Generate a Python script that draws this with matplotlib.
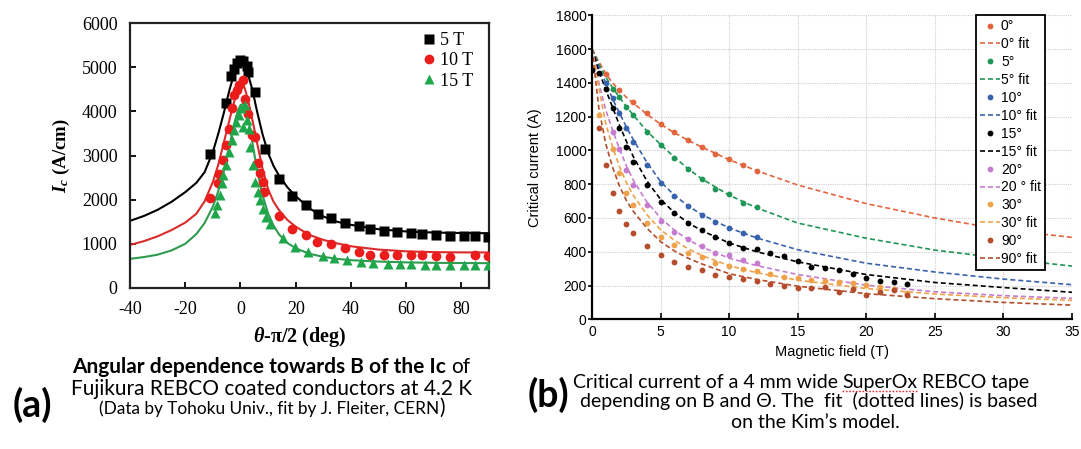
import matplotlib
matplotlib.use("Agg")
import matplotlib.pyplot as plt
from matplotlib.lines import Line2D
from matplotlib.transforms import IdentityTransform

# ---------------- (a) angular dependence, Fujikura tape at 4.2 K ----------------
ang_5T = [-11, -5.1, -3.3, -2.5, -1.1, 0, 1.1, 2.2, 2.9, 5.1, 9, 13.8, 18.8, 23.9, 27.9,
          32.9, 37.9, 42.8, 46.8, 51.8, 56.6, 61.8, 65.7, 70.9, 75.7, 80.8, 84.8, 89.7]
ic_5T = [3030, 4190, 4800, 4950, 5090, 5160, 5130, 5020, 4890, 4430, 3140, 2470, 2080, 1880, 1680,
         1575, 1480, 1395, 1340, 1300, 1275, 1235, 1215, 1190, 1185, 1185, 1175, 1160]

ang_10T = [-11.2, -8.2, -7.6, -6.2, -5.2, -4.2, -3.0, -2.2, -1.3, -0.4, 0.8, 1.8, 2.6, 4.1, 5.1,
           6.3, 7.1, 8.1, 8.7, 13.8, 18.7, 23.8, 27.8, 32.9, 37.9, 42.8, 46.8, 51.8, 56.6, 61.8,
           65.7, 70.9, 75.7, 84.8, 89.7]
ic_10T = [2030, 2370, 2590, 2900, 3240, 3610, 4070, 4370, 4490, 4590, 4700, 4280, 3950, 3460, 3410,
          2820, 2595, 2405, 2180, 1630, 1330, 1190, 1035, 990, 900, 810, 755, 745, 745, 740,
          740, 730, 700, 745, 725]

ang_15T = [-9.4, -8.4, -7.5, -6.8, -6.2, -5.2, -4.0, -3.2, -2.5, -1.6, -0.6, 0.2, 0.8, 1.5, 2.3,
           3.0, 3.3, 4.7, 5.4, 6.3, 7.1, 8.1, 9.3, 10.8, 15.3, 19.8, 24.6, 29.8, 33.7, 38.5,
           43.7, 47.9, 53.4, 57.9, 61.8, 66.9, 70.9, 75.7, 80.8, 84.8, 89.7]
ic_15T = [1690, 1880, 2100, 2380, 2560, 2780, 3080, 3350, 3570, 3760, 3910, 4070, 3650, 4150, 3800,
          3610, 3200, 2780, 2405, 2180, 1990, 1800, 1615, 1450, 1125, 935, 810, 725, 670, 635,
          595, 575, 545, 545, 545, 520, 520, 520, 520, 520, 520]

# fitted curves, sampled on a common angle grid
fit_ang = [-40, -35, -30, -25, -20, -16, -13, -10, -8, -6, -4, -3, -2, -1, 0, 1, 2, 3, 4, 5, 6,
           8, 10, 12, 14, 17, 20, 25, 30, 35, 40, 50, 60, 70, 80, 90]
fit_5T = [1520, 1630, 1770, 1950, 2170, 2380, 2620, 3080, 3500, 3970, 4480, 4700, 4870, 5000,
          5070, 5060, 4950, 4780, 4560, 4290, 4000, 3480, 3060, 2760, 2540, 2280, 2080, 1800,
          1620, 1500, 1430, 1330, 1280, 1255, 1245, 1240]
fit_10T = [975, 1060, 1170, 1310, 1480, 1680, 1960, 2400, 2800, 3300, 3800, 4050, 4280, 4470,
           4590, 4620, 4430, 4180, 3900, 3600, 3290, 2700, 2240, 1950, 1760, 1540, 1390, 1200,
           1090, 1010, 945, 870, 830, 812, 806, 805]
fit_15T = [660, 700, 755, 850, 1000, 1220, 1470, 1840, 2200, 2660, 3220, 3510, 3780, 4000, 4140,
           4170, 4050, 3775, 3420, 3040, 2685, 2100, 1690, 1410, 1210, 1020, 900, 775, 705, 660,
           630, 598, 580, 570, 565, 562]

fields_a = ["5 T", "10 T", "15 T"]
xticks_a = [-40, -20, 0, 20, 40, 60, 80]
yticks_a = [0, 1000, 2000, 3000, 4000, 5000, 6000]

# ---------------- (b) Ic(B, theta), SuperOx 4 mm tape ----------------
angles_b = ["0°", "5°", "10°", "15°", "20°", "30°", "90°"]
fit_labels_b = ["0° fit", "5° fit", "10° fit", "15° fit", "20 ° fit", "30° fit", "90° fit"]

B_0 = [1, 2, 3, 4, 5, 6, 7, 8, 9, 10, 11, 12]
I_0 = [1450, 1360, 1285, 1220, 1155, 1110, 1062, 1020, 979, 947, 914, 878]

B_5 = [1.5, 2, 2.5, 3, 4, 5, 6, 7, 8, 9, 10, 11, 12]
I_5 = [1365, 1316, 1259, 1210, 1111, 1032, 958, 890, 828, 770, 740, 690, 667]

B_10 = [1, 1.5, 2, 2.5, 3, 4, 5, 6, 7, 8, 9, 10, 11, 12]
I_10 = [1400, 1308, 1220, 1131, 1052, 913, 807, 731, 672, 617, 578, 542, 513, 486]

B_15 = [0, 0.5, 1, 1.5, 2, 2.5, 3, 4, 5, 6, 7, 8, 9, 10, 11, 12, 13, 14, 15, 16, 17, 18, 19,
        20, 21, 22, 23]
I_15 = [1478, 1458, 1362, 1253, 1131, 1022, 933, 797, 692, 630, 570, 531, 485, 454, 424, 414,
        391, 375, 346, 312, 304, 292, 268, 243, 225, 218, 209]

B_20 = [1.5, 2, 2.5, 3, 4, 5, 6, 7, 8, 9, 10, 11, 12]
I_20 = [1111, 1010, 884, 795, 677, 584, 519, 474, 436, 394, 381, 351, 335]

B_30 = [0.5, 1.5, 2, 2.5, 3, 4, 5, 6, 7, 8, 9, 10, 11, 12, 13, 14, 15, 16, 17, 18, 19, 20, 21,
        22, 23]
I_30 = [1210, 1006, 864, 750, 679, 572, 489, 440, 394, 367, 335, 316, 296, 288, 267, 252, 243,
        233, 228, 220, 213, 202, 189, 178, 158]

B_90 = [0.5, 1, 1.5, 2, 2.5, 3, 4, 5, 6, 7, 8, 9, 10, 11, 12, 13, 14, 15, 16, 17, 18, 19, 20,
        21, 22, 23]
I_90 = [1131, 913, 746, 643, 566, 511, 434, 378, 341, 311, 294, 264, 252, 237, 227, 211, 196,
        186, 183, 193, 163, 178, 144, 163, 173, 144]

B_fit = [0, 0.5, 1, 1.5, 2, 2.5, 3, 4, 5, 6, 7, 8, 10, 12, 15, 20, 25, 30, 35]
fit_0 = [1600, 1525, 1455, 1400, 1355, 1315, 1280, 1215, 1155, 1105, 1060, 1020, 945, 880, 795,
         685, 600, 530, 485]
fit_5 = [1600, 1510, 1435, 1370, 1315, 1260, 1210, 1115, 1035, 960, 892, 832, 735, 660, 570,
         480, 410, 360, 315]
fit_10 = [1600, 1495, 1400, 1305, 1222, 1140, 1065, 930, 815, 735, 672, 620, 541, 482, 412,
          332, 280, 238, 205]
fit_15 = [1600, 1470, 1360, 1255, 1150, 1055, 965, 820, 710, 632, 572, 525, 452, 400, 340,
          265, 218, 188, 160]
fit_20 = [1600, 1400, 1240, 1120, 1010, 910, 825, 695, 600, 528, 472, 428, 362, 318, 265,
          202, 163, 140, 124]
fit_30 = [1600, 1370, 1160, 1020, 905, 810, 735, 620, 530, 468, 418, 378, 318, 276, 232,
          182, 150, 128, 112]
fit_90 = [1600, 1250, 1040, 900, 790, 705, 640, 540, 460, 405, 362, 328, 270, 236, 196,
          152, 122, 100, 84]

xticks_b = [0, 5, 10, 15, 20, 25, 30, 35]
yticks_b = [0, 200, 400, 600, 800, 1000, 1200, 1400, 1600, 1800]

W, H = 1081, 449
SERIF = "Liberation Serif"
SANS = "Liberation Sans"
CAP = "Lato"

plt.rcParams["font.family"] = SANS
plt.rcParams["axes.unicode_minus"] = False
plt.rcParams["mathtext.fontset"] = "custom"
plt.rcParams["mathtext.it"] = "Liberation Serif:italic:bold"
plt.rcParams["mathtext.rm"] = "Liberation Serif:bold"

fig = plt.figure(figsize=(W / 100, H / 100), dpi=100)
fig.patch.set_facecolor("white")

# ---------------- panel (a) ----------------
axa = fig.add_axes([130 / W, 1 - 288 / H, 359 / W, 265 / H])
axa.plot(fit_ang, fit_5T, color="black", lw=1.5, zorder=2)
axa.plot(fit_ang, fit_10T, color="#d92b2b", lw=1.5, zorder=2)
axa.plot(fit_ang, fit_15T, color="#2e9b4f", lw=1.5, zorder=2)
axa.plot(ang_5T, ic_5T, ls="none", marker="s", ms=6.5, color="black", mec="none",
         label=fields_a[0], zorder=3)
axa.plot(ang_10T, ic_10T, ls="none", marker="o", ms=7, color="#ea1c1c", mec="none",
         label=fields_a[1], zorder=3)
axa.plot(ang_15T, ic_15T, ls="none", marker="^", ms=7.5, color="#1fa64b", mec="none",
         label=fields_a[2], zorder=3)
axa.set_xlim(-40, 90)
axa.set_ylim(0, 6000)
axa.set_xticks(xticks_a)
axa.set_yticks(yticks_a)
for s in axa.spines.values():
    s.set_linewidth(1.6)
    s.set_color("#222222")
axa.tick_params(direction="in", length=4, width=1.3, pad=9, labelsize=13,
                top=False, right=False)
for lab in axa.get_xticklabels() + axa.get_yticklabels():
    lab.set_family(SERIF)
axa.set_ylabel(r"$I_c$ (A/cm)", family=SERIF, fontweight="bold", fontsize=13.5)
axa.yaxis.set_label_coords(-0.162, 0.5)
axa.set_xlabel(r"$\theta$-$\mathrm{\pi}$/2 (deg)", family=SERIF, fontweight="bold",
               fontsize=14.5)
axa.xaxis.set_label_coords(0.473, -0.14)
axa.legend(loc="upper left", bbox_to_anchor=(0.79, 1.0), frameon=False,
           handlelength=0.7, handletextpad=0.25, labelspacing=0.18, borderpad=0,
           prop={"family": SERIF, "size": 13})

# ---------------- panel (b) ----------------
axb = fig.add_axes([592 / W, 1 - 319.3 / H, 480 / W, 304 / H])
colors_b = ["#e3653e", "#1f9656", "#3862ab", "#000000", "#c57ccf", "#eea24c", "#b34d2c"]
data_b = [(B_0, I_0, fit_0), (B_5, I_5, fit_5), (B_10, I_10, fit_10), (B_15, I_15, fit_15),
          (B_20, I_20, fit_20), (B_30, I_30, fit_30), (B_90, I_90, fit_90)]
for (bx, iy, fy), c, lab, flab in zip(data_b, colors_b, angles_b, fit_labels_b):
    axb.plot(bx, iy, ls="none", marker="o", ms=4.2, color=c, mec="none", label=lab, zorder=3)
    axb.plot(B_fit, fy, ls=(0, (3, 1.8)), lw=1.2, color=c, label=flab, zorder=2)
axb.set_xlim(0, 35)
axb.set_ylim(0, 1800)
axb.set_xticks(xticks_b)
axb.set_yticks(yticks_b)
axb.grid(True, color="#cfcfcf", lw=0.8, ls=(0, (1, 1)))
axb.set_axisbelow(True)
for side in ("top", "right"):
    axb.spines[side].set_visible(False)
for side in ("left", "bottom"):
    axb.spines[side].set_linewidth(1.6)
axb.tick_params(axis="x", direction="in", length=4, width=1.2, pad=4, labelsize=10)
axb.tick_params(axis="y", direction="out", length=3, width=1.2, pad=1, labelsize=10)
axb.set_ylabel("Critical current (A)", fontsize=10.5)
axb.yaxis.set_label_coords(-0.104, 0.5)
axb.set_xlabel("Magnetic field (T)", fontsize=10.5)
axb.xaxis.set_label_coords(0.5, -0.086)
leg = axb.legend(loc="upper right", bbox_to_anchor=(0.944, 1.0), borderaxespad=0,
                 fontsize=10, handlelength=1.4, handletextpad=0.1, labelspacing=0.28,
                 borderpad=0.3, fancybox=False, framealpha=1, markerscale=1.0)
leg.get_frame().set_edgecolor("black")
leg.get_frame().set_linewidth(1.3)

# ---------------- captions ----------------
renderer = fig.canvas.get_renderer()


def caption_line(runs, xc, y_px):
    """Lay out text runs side by side, centred on xc, baseline y_px below the top edge."""
    arts = []
    for s, kw, gap in runs:
        t = fig.text(0, 0, s, transform=IdentityTransform(), ha="left", va="baseline",
                     family=CAP, **kw)
        arts.append((t, gap))
    widths = [t.get_window_extent(renderer).width for t, _ in arts]
    total = sum(widths) + sum(g for _, g in arts)
    x = xc - total / 2
    for (t, g), w in zip(arts, widths):
        x += g
        t.set_position((x, H - y_px))
        x += w
    return arts, widths


fa = 15.0
fb = 14.0
caption_line([("Angular dependence towards B of the Ic", {"fontsize": fa, "fontweight": "bold"}, 0),
              ("of", {"fontsize": fa}, 5)], 271, 373)
caption_line([("Fujikura REBCO coated conductors at 4.2 K", {"fontsize": fa}, 0)], 272, 395)
caption_line([("(Data by Tohoku Univ., fit by J. Fleiter, CERN", {"fontsize": 12.4}, 0),
              (")", {"fontsize": fa}, 0)], 272, 414)
caption_line([("(a)", {"fontsize": 27, "fontweight": "bold"}, 0)], 32, 417)

arts, widths = caption_line([("Critical current of a 4 mm wide", {"fontsize": fb}, 0),
                             ("SuperOx", {"fontsize": fb}, 4.5),
                             ("REBCO tape", {"fontsize": fb}, 4.5)], 801, 388)
# spell-check squiggle under "SuperOx"
sx = arts[1][0].get_position()[0]
fig.add_artist(Line2D([sx, sx + widths[1]], [H - 391, H - 391], transform=IdentityTransform(),
                      color="#e03030", lw=1.0, ls=(0, (1.2, 1.2))))
caption_line([("depending on B and \u0398. The  fit  (dotted lines) is based", {"fontsize": fb}, 0)],
             809, 407)
caption_line([("on the Kim\u2019s model.", {"fontsize": fb}, 0)], 815, 428)
caption_line([("(b)", {"fontsize": 27, "fontweight": "bold"}, 0)], 548, 407)

fig.savefig("out.png", dpi=100, facecolor="white")
